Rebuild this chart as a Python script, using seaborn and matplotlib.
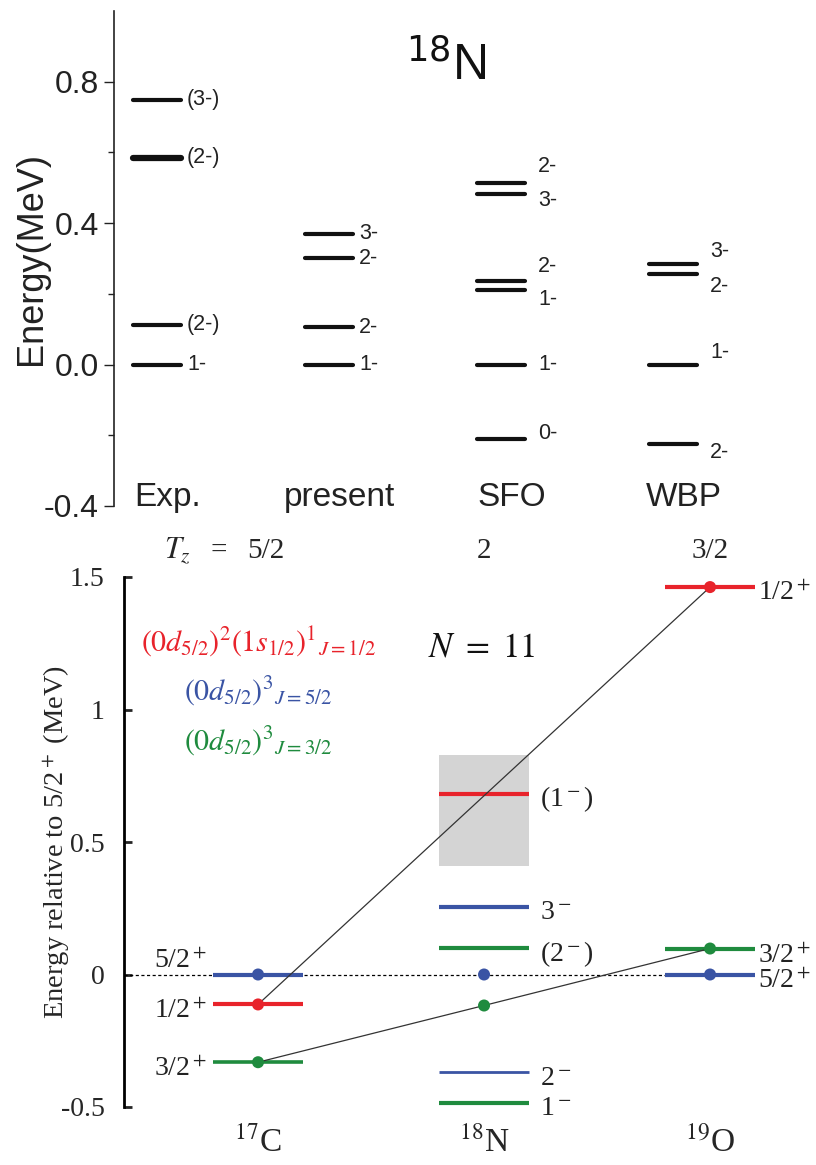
import numpy as np
import pandas as pd
import matplotlib
matplotlib.use("Agg")
import matplotlib.pyplot as plt
import seaborn as sns

# ---------------- data: top panel (18N level schemes) ----------------
models = ["Exp.", "present", "SFO", "WBP"]
exp_E = [0.0, 0.113, 0.585, 0.749]
exp_J = ["1-", "(2-)", "(2-)", "(3-)"]
present_E = [0.0, 0.105, 0.300, 0.370]
present_J = ["1-", "2-", "2-", "3-"]
sfo_E = [-0.210, 0.0, 0.212, 0.237, 0.483, 0.514]
sfo_J = ["0-", "1-", "1-", "2-", "3-", "2-"]
wbp_E = [-0.226, 0.0, 0.257, 0.285]
wbp_J = ["2-", "1-", "2-", "3-"]

# ---------------- data: bottom panel (N = 11 systematics) ----------------
nuclei = [r"$^{17}$C", r"$^{18}$N", r"$^{19}$O"]
tz_values = ["5/2", "2", "3/2"]
# levels: nucleus index, energy, label, configuration
lvl_nucleus = [0, 0, 0, 1, 1, 1, 1, 1, 2, 2, 2]
lvl_E = [0.0, -0.113, -0.331, 0.680, 0.256, 0.100, -0.368, -0.485, 1.462, 0.098, 0.0]
lvl_label = [r"5/2$^+$", r"1/2$^+$", r"3/2$^+$", r"(1$^-$)", r"3$^-$", r"(2$^-$)",
             r"2$^-$", r"1$^-$", r"1/2$^+$", r"3/2$^+$", r"5/2$^+$"]
lvl_config = ["d3_52", "d2s", "d3_32", "d2s", "d3_52", "d3_32", "d3_52", "d3_32",
              "d2s", "d3_32", "d3_52"]
# systematics (dots + connecting lines)
red_pos = [0, 2]
red_E = [-0.113, 1.462]
blue_pos = [0, 1, 2]
blue_E = [0.0, 0.0, 0.0]
green_pos = [0, 1, 2]
green_E = [-0.331, -0.117, 0.098]
# 18N (1-) resonance uncertainty band
band_low, band_high = 0.41, 0.827

# ---------------- styles ----------------
RED, BLUE, GREEN = "#e8232b", "#3a54a4", "#1f8b3e"
cfg_color = {"d2s": RED, "d3_52": BLUE, "d3_32": GREEN}

sns.set_theme(style="ticks")
plt.rcParams["font.family"] = ["Liberation Sans", "DejaVu Sans"]
plt.rcParams["mathtext.fontset"] = "stix"
SERIF = ["Liberation Serif", "DejaVu Serif"]

fig = plt.figure(figsize=(8.16, 11.65), dpi=100)
fig.patch.set_facecolor("white")

# ================= TOP PANEL =================
W, H = 816.0, 1165.0
ax1 = fig.add_axes([114 / W, 1 - 506 / H, (800 - 114) / W, (506 - 11) / H])
ax1.set_facecolor("white")
ax1.set_xlim(-0.25, 3.738)
ax1.set_ylim(-0.4, 1.0)
for s in ["top", "right", "bottom"]:
    ax1.spines[s].set_visible(False)
ax1.spines["left"].set_linewidth(1.2)
ax1.spines["left"].set_color("#222222")
ax1.set_xticks([])
ax1.set_yticks([-0.4, 0.0, 0.4, 0.8])
ax1.set_yticklabels(["-0.4", "0.0", "0.4", "0.8"])
ax1.set_yticks([-0.2, 0.2, 0.6], minor=True)
ax1.tick_params(axis="y", which="major", direction="out", length=7, width=1.0,
                labelsize=23, pad=4, colors="#222222")
ax1.tick_params(axis="y", which="minor", direction="out", length=4, width=1.0,
                colors="#222222")
ax1.set_ylabel("Energy(MeV)", fontsize=26, labelpad=-4, color="#222222")

top_sets = [(exp_E, exp_J), (present_E, present_J), (sfo_E, sfo_J), (wbp_E, wbp_J)]
# label vertical offsets (points) to separate close doublets
top_offsets = [
    [0, 0, 0, 0],
    [0, 0, 0, 0],
    [4, 0, -7, 10, -5, 12],
    [-6, 9, -9, 9],
]
hw = 0.142
for i, (E, J) in enumerate(top_sets):
    lw = [3.0] * len(E)
    if i == 0:
        lw[2] = 4.5
    for k, (e, j) in enumerate(zip(E, J)):
        ax1.hlines(e, i - hw, i + hw, color="#111111", lw=lw[k], capstyle="round")
        ax1.annotate(j, xy=(i + hw, e), xytext=(4 if i < 2 else 9, top_offsets[i][k]),
                     textcoords="offset points", ha="left", va="center",
                     fontsize=15.5, color="#222222")
    ax1.text(i + 0.06, -0.40, models[i], ha="center", va="baseline",
             fontsize=24, color="#222222", clip_on=False)

ax1.text(1.68, 0.845, r"$^{18}$N", ha="center", va="center", fontsize=36,
         color="#111111", math_fontfamily="dejavusans")

# ================= BOTTOM PANEL =================
ax2 = fig.add_axes([124 / W, 1 - 1107 / H, (800 - 124) / W, (1107 - 577) / H])
ax2.set_facecolor("white")
ax2.set_xlim(-0.593, 2.398)
ax2.set_ylim(-0.5, 1.5)
for s in ["top", "right", "bottom"]:
    ax2.spines[s].set_visible(False)
ax2.spines["left"].set_linewidth(2.0)
ax2.spines["left"].set_color("black")

# uncertainty band for 18N (1-)
ax2.fill_between([1 - 0.2, 1 + 0.2], band_low, band_high, color="#d4d4d4", lw=0, zorder=1)

# dotted zero reference
ax2.hlines(0, -0.593, 2 - 0.2, color="black", lw=0.9, linestyles=(0, (2.5, 2)), zorder=2)

# level lines
lvl_lw = [3.0, 3.0, 2.6, 3.0, 3.0, 3.0, 2.0, 3.0, 3.0, 3.0, 3.0]
for n, e, c, lw in zip(lvl_nucleus, lvl_E, lvl_config, lvl_lw):
    ax2.hlines(e, n - 0.2, n + 0.2, color=cfg_color[c], lw=lw, zorder=3)

# connecting lines (systematics)
df_red = pd.DataFrame({"pos": red_pos, "E": red_E})
df_green = pd.DataFrame({"pos": green_pos, "E": green_E})
sns.lineplot(data=df_red, x="pos", y="E", color="#333333", lw=0.9, ax=ax2,
             estimator=None, sort=False, zorder=4)
sns.lineplot(data=df_green, x="pos", y="E", color="#333333", lw=0.9, ax=ax2,
             estimator=None, sort=False, zorder=4)

# dots
df_dots = pd.DataFrame({
    "pos": red_pos + blue_pos + green_pos,
    "E": red_E + blue_E + green_E,
    "cfg": ["d2s"] * len(red_pos) + ["d3_52"] * len(blue_pos) + ["d3_32"] * len(green_pos),
})
sns.scatterplot(data=df_dots, x="pos", y="E", hue="cfg", palette=cfg_color, s=75,
                edgecolor="none", legend=False, ax=ax2, zorder=5)

ax2.set_xlim(-0.593, 2.398)
ax2.set_ylim(-0.5, 1.5)
ax2.set_yticks([-0.5, 0, 0.5, 1, 1.5])
ax2.set_yticklabels(["-0.5", "0", "0.5", "1", "1.5"])
ax2.tick_params(axis="y", direction="in", length=6, width=2.0, labelsize=20, pad=14)
for t in ax2.get_yticklabels():
    t.set_fontfamily(SERIF)
ax2.set_xticks([0, 1, 2])
ax2.set_xticklabels(nuclei)
ax2.tick_params(axis="x", length=0, labelsize=24, pad=14)
for t in ax2.get_xticklabels():
    t.set_fontfamily(SERIF)
ax2.set_xlabel("")
ax2.set_ylabel(r"Energy relative to 5/2$^+$ (MeV)", fontsize=20.5, fontfamily=SERIF,
               labelpad=-8)

# level labels
label_xy = {
    0: (-0.226, "right"),
    1: (0.248, "left"),
    2: (0.212, "left"),
}
label_y = [0.023, -0.165, -0.383, 0.635, 0.21, 0.05, -0.417, -0.53, 1.413, 0.045, -0.049]
for n, lab, yy in zip(lvl_nucleus, lvl_label, label_y):
    dx, ha = label_xy[n]
    ax2.text(n + dx, yy, lab, ha=ha, va="baseline", fontsize=20, fontfamily=SERIF,
             color="#222222")

# configuration legend
ax2.text(0.0, 1.256, r"$(0d_{5/2})^{2}(1s_{1/2})^{1}{}_{J=1/2}$", ha="center", va="center",
         fontsize=21.5, color=RED)
ax2.text(0.0, 1.068, r"$(0d_{5/2})^{3}{}_{J=5/2}$", ha="center", va="center",
         fontsize=21.5, color=BLUE)
ax2.text(0.0, 0.880, r"$(0d_{5/2})^{3}{}_{J=3/2}$", ha="center", va="center",
         fontsize=21.5, color=GREEN)
ax2.text(0.99, 1.237, r"$N\ =\ 11$", ha="center", va="center", fontsize=25, color="#111111")

# T_z header
ax2.text(-0.354, 1.60, r"$T_z$", ha="center", va="center", fontsize=22, clip_on=False)
ax2.text(-0.172, 1.60, "=", ha="center", va="center", fontsize=21, fontfamily=SERIF,
         clip_on=False)
for i, tz in enumerate(tz_values):
    ax2.text(i + (0.035 if i == 0 else 0.0), 1.60, tz, ha="center", va="center",
             fontsize=21, fontfamily=SERIF, clip_on=False)

fig.savefig("out.png", dpi=100, facecolor="white")
